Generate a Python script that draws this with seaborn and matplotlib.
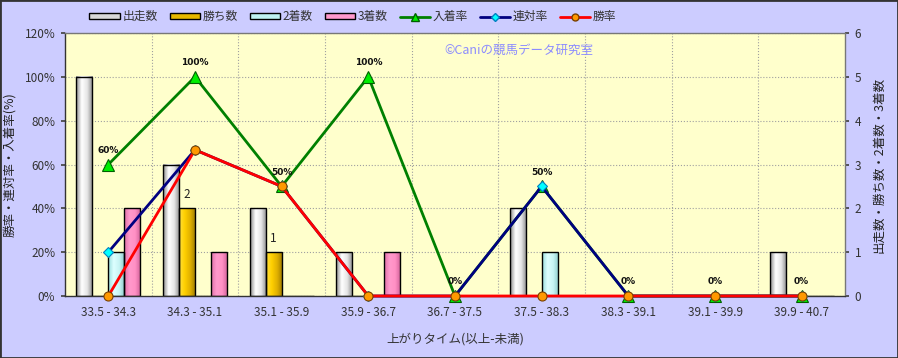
import numpy as np
import pandas as pd
import matplotlib
matplotlib.use("Agg")
import matplotlib.pyplot as plt
import seaborn as sns
from matplotlib.patches import Patch, Rectangle
from matplotlib.lines import Line2D
from matplotlib.colors import LinearSegmentedColormap

# ==============================
# DATA
# ==============================

CATEGORIES = ["33.5 - 34.3", "34.3 - 35.1", "35.1 - 35.9", "35.9 - 36.7", "36.7 - 37.5",
              "37.5 - 38.3", "38.3 - 39.1", "39.1 - 39.9", "39.9 - 40.7"]

RUNS = [5, 3, 2, 1, 0, 2, 0, 0, 1]        # 出走数
WINS = [0, 2, 1, 0, 0, 0, 0, 0, 0]        # 勝ち数
SECOND = [1, 0, 0, 0, 0, 1, 0, 0, 0]      # 2着数
THIRD = [2, 1, 0, 1, 0, 0, 0, 0, 0]       # 3着数

PLACE_RATE = [60, 100, 50, 100, 0, 50, 0, 0, 0]          # 入着率
QUINELLA_RATE = [20, 66.7, 50, 0, 0, 50, 0, 0, 0]        # 連対率
WIN_RATE = [0, 66.7, 50, 0, 0, 0, 0, 0, 0]               # 勝率

BAR_NAMES = ["出走数", "勝ち数", "2着数", "3着数"]
BAR_COLORS = ["#E8E8E8", "#FFCC00", "#CCFFFF", "#FF99CC"]
BAR_GRADIENTS = [
    ["#8C8C8C", "#FFFFFF", "#E6E6E6", "#8C8C8C"],
    ["#FFE040", "#FFD000", "#E0B000", "#9C7A00"],
    ["#99DDDD", "#DDFFFF", "#C8F4F4", "#8CCCCC"],
    ["#E070A8", "#FF99CC", "#FF90C4", "#D06098"],
]

# ==============================
# STYLE
# ==============================

sns.set_theme(style="white")
plt.rcParams["font.family"] = ["Noto Sans CJK JP", "DejaVu Sans"]
TEXT = "#333333"

fig = plt.figure(figsize=(8.98, 3.58), dpi=100, facecolor="#CCCCFF")
ax = fig.add_axes([65 / 898, 1 - 296 / 358, 780 / 898, 263 / 358])
ax2 = ax.twinx()

# counts axis in the back, rate axis in front
ax2.set_zorder(1)
ax.set_zorder(2)
ax.patch.set_visible(False)
ax2.patch.set_visible(True)
ax2.patch.set_facecolor("#FFFFCC")

# ==============================
# BARS (right axis)
# ==============================

bars_df = pd.DataFrame({
    "区間": CATEGORIES * 4,
    "項目": sum([[n] * len(CATEGORIES) for n in BAR_NAMES], []),
    "数": RUNS + WINS + SECOND + THIRD,
})

sns.barplot(data=bars_df, x="区間", y="数", hue="項目", hue_order=BAR_NAMES,
            palette=BAR_COLORS, saturation=1, width=0.74, edgecolor="black",
            linewidth=1, legend=False, ax=ax2)

# cylinder-like gradient fill
for cont, grad in zip(ax2.containers, BAR_GRADIENTS):
    cmap = LinearSegmentedColormap.from_list("g", grad)
    for p in cont.patches:
        h = p.get_height()
        if h <= 0:
            continue
        x0, w = p.get_x(), p.get_width()
        ax2.imshow(np.linspace(0, 1, 64).reshape(1, -1), cmap=cmap, aspect="auto",
                   extent=[x0, x0 + w, 0, h], zorder=0.9, interpolation="bilinear")
        p.set_facecolor("none")
        p.set_zorder(1)

ax2.bar_label(ax2.containers[1], labels=[str(v) if v else "" for v in WINS],
              padding=5, fontsize=8.5, color="#222222")

ax2.set_ylim(0, 6)
ax2.set_yticks(range(0, 7))
ax2.set_yticklabels([str(v) for v in range(0, 7)], fontsize=8.5, color=TEXT)
ax2.grid(axis="y", linestyle=":", color="#A0A0A0", linewidth=0.8)
ax2.set_axisbelow(True)
ax2.set_ylabel("出走数・勝ち数・2着数・3着数", fontsize=9, color="#222222", labelpad=8)
for s in ax2.spines.values():
    s.set_visible(False)
ax2.tick_params(axis="y", length=3, color="#444444", pad=4)

# ==============================
# LINES (left axis)
# ==============================

pos = np.arange(len(CATEGORIES))

sns.lineplot(x=pos, y=PLACE_RATE, ax=ax, color="#008000", linewidth=2,
             marker="^", markersize=8, markerfacecolor="#00EE00",
             markeredgecolor="#006000", markeredgewidth=0.8, clip_on=False, zorder=3)
sns.lineplot(x=pos, y=QUINELLA_RATE, ax=ax, color="#000080", linewidth=2,
             marker="D", markersize=5, markerfacecolor="#00FFFF",
             markeredgecolor="#0080C0", markeredgewidth=0.8, clip_on=False, zorder=3)
sns.lineplot(x=pos, y=WIN_RATE, ax=ax, color="#FF0000", linewidth=2,
             marker="o", markersize=6.5, markerfacecolor="#FF9900",
             markeredgecolor="#7A4000", markeredgewidth=0.8, clip_on=False, zorder=3)

for i, v in enumerate(PLACE_RATE):
    ax.annotate(f"{v}%", (i, v), xytext=(0, 7), textcoords="offset points",
                ha="center", va="bottom", fontsize=6.5, fontweight="bold",
                family="DejaVu Sans", color="#111111")

ax.set_xlim(-0.5, len(CATEGORIES) - 0.5)
ax.set_ylim(0, 120)
ax.set_yticks(range(0, 121, 20))
ax.set_yticklabels([f"{v}%" for v in range(0, 121, 20)], fontsize=8.5, color=TEXT)
ax.set_xticks(pos)
ax.set_xticklabels(CATEGORIES, fontsize=8.5, color=TEXT)
ax.set_xticks(pos[:-1] + 0.5, minor=True)
ax.grid(which="minor", axis="x", linestyle=":", color="#A0A0A0", linewidth=0.8)
ax.grid(which="major", visible=False)
ax.tick_params(axis="x", which="both", length=0, pad=7)
ax.tick_params(axis="y", length=3, color="#444444", pad=4)
ax.set_ylabel("勝率・連対率・入着率(%)", fontsize=9, color="#222222", labelpad=6)
ax.set_xlabel("上がりタイム(以上-未満)", fontsize=9, color=TEXT, labelpad=10)
for s in ax.spines.values():
    s.set_color("#777777")
    s.set_linewidth(1)
ax.spines["left"].set_color("#333333")
ax.spines["bottom"].set_color("#333333")

ax.text(0.487, 0.935, "©Caniの競馬データ研究室", transform=ax.transAxes,
        ha="left", va="center", fontsize=9, color="#8C8CFF")

# ==============================
# LEGEND
# ==============================

handles = [Patch(facecolor=c, edgecolor="black", linewidth=1) for c in
           ["#D8D8D8", "#E6B800", "#BFF2F2", "#FF99CC"]]
handles += [
    Line2D([], [], color="#008000", linewidth=2, marker="^", markersize=6,
           markerfacecolor="#00EE00", markeredgecolor="#006000"),
    Line2D([], [], color="#000080", linewidth=2, marker="D", markersize=4,
           markerfacecolor="#00FFFF", markeredgecolor="#0080C0"),
    Line2D([], [], color="#FF0000", linewidth=2, marker="o", markersize=5,
           markerfacecolor="#FF9900", markeredgecolor="#7A4000"),
]
labels = BAR_NAMES + ["入着率", "連対率", "勝率"]
fig.legend(handles, labels, loc="center", bbox_to_anchor=(0.393, 0.953), ncol=7,
           frameon=False, fontsize=8.5, handlelength=2.6, handleheight=0.5,
           columnspacing=1.0, handletextpad=0.2, labelcolor=TEXT)

fig.patches.append(Rectangle((0, 0), 1, 1, transform=fig.transFigure, fill=False,
                             edgecolor="#333333", linewidth=2))

fig.savefig("out.png", dpi=100, facecolor=fig.get_facecolor())
